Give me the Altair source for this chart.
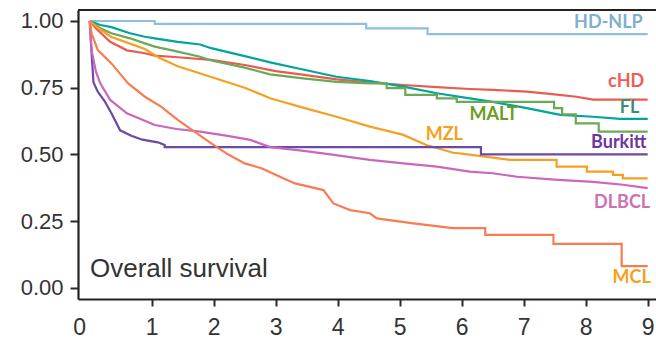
import altair as alt
import pandas as pd

# ---- data ----
series_names = ["HD-NLP", "cHD", "FL", "MALT", "MZL", "Burkitt", "DLBCL", "MCL"]

hdnlp_t = [0, 1.05, 1.05, 4.46, 4.46, 5.45, 5.45, 9.0]
hdnlp_s = [1.0, 1.0, 0.989, 0.989, 0.972, 0.972, 0.951, 0.951]

chd_t = [0, 0.11, 0.33, 0.6, 0.89, 1.05, 1.42, 1.96, 2.5, 3.0, 3.4, 3.98, 4.5, 5.06, 5.6, 6.13, 6.5, 7.05, 7.5, 7.85, 8.12, 9.0]
chd_s = [1.0, 0.97, 0.922, 0.89, 0.879, 0.87, 0.864, 0.854, 0.835, 0.812, 0.80, 0.781, 0.77, 0.76, 0.752, 0.745, 0.742, 0.735, 0.725, 0.716, 0.705, 0.705]

fl_t = [0, 0.17, 0.35, 0.65, 0.89, 1.05, 1.42, 1.78, 1.96, 2.5, 2.91, 3.44, 3.98, 4.52, 5.06, 5.6, 6.13, 6.5, 7.05, 7.59, 8.12, 8.55, 9.0]
fl_s = [1.0, 0.985, 0.977, 0.954, 0.941, 0.935, 0.922, 0.912, 0.898, 0.868, 0.845, 0.818, 0.791, 0.775, 0.754, 0.729, 0.71, 0.697, 0.673, 0.648, 0.641, 0.633, 0.633]

malt_t = [0, 0.17, 0.35, 0.65, 0.89, 1.05, 1.42, 1.78, 1.96, 2.5, 2.91, 3.44, 3.98, 4.52, 4.79, 4.79, 5.09, 5.09, 5.6, 5.6, 5.92, 5.92, 7.49, 7.49, 7.62, 7.62, 7.84, 7.84, 8.21, 8.21, 9.0]
malt_s = [1.0, 0.973, 0.954, 0.935, 0.916, 0.904, 0.885, 0.866, 0.852, 0.825, 0.80, 0.785, 0.772, 0.766, 0.766, 0.748, 0.748, 0.723, 0.723, 0.71, 0.71, 0.697, 0.697, 0.673, 0.673, 0.65, 0.65, 0.616, 0.616, 0.585, 0.585]

mzl_t = [0, 0.17, 0.35, 0.65, 0.89, 1.12, 1.42, 1.96, 2.5, 2.91, 3.44, 3.98, 4.52, 5.06, 5.43, 5.86, 6.0, 6.78, 7.53, 7.53, 8.02, 8.02, 8.44, 8.44, 8.6, 8.6, 9.0]
mzl_s = [1.0, 0.968, 0.94, 0.915, 0.895, 0.862, 0.83, 0.79, 0.75, 0.71, 0.675, 0.641, 0.604, 0.573, 0.535, 0.506, 0.503, 0.479, 0.479, 0.454, 0.454, 0.435, 0.435, 0.423, 0.423, 0.41, 0.41]

burkitt_t = [0, 0.03, 0.06, 0.13, 0.24, 0.35, 0.49, 0.67, 0.85, 1.1, 1.21, 1.21, 6.31, 6.31, 9.0]
burkitt_s = [1.0, 0.88, 0.77, 0.735, 0.70, 0.654, 0.59, 0.57, 0.555, 0.545, 0.535, 0.527, 0.527, 0.50, 0.50]

dlbcl_t = [0, 0.03, 0.1, 0.17, 0.33, 0.6, 1.05, 1.4, 1.78, 2.2, 2.59, 2.91, 3.39, 3.88, 4.52, 5.06, 5.6, 6.13, 6.5, 6.89, 7.5, 8.12, 8.6, 9.0]
dlbcl_s = [1.0, 0.89, 0.81, 0.766, 0.704, 0.654, 0.61, 0.595, 0.585, 0.57, 0.554, 0.527, 0.515, 0.50, 0.479, 0.466, 0.454, 0.435, 0.429, 0.416, 0.405, 0.397, 0.386, 0.373]

mcl_t = [0, 0.03, 0.13, 0.35, 0.62, 0.89, 1.15, 1.42, 1.69, 1.96, 2.23, 2.5, 2.77, 2.98, 3.31, 3.77, 3.93, 4.2, 4.52, 4.63, 5.22, 5.86, 6.38, 6.38, 7.48, 7.48, 8.58, 8.58, 9.0]
mcl_s = [1.0, 0.954, 0.891, 0.841, 0.766, 0.716, 0.679, 0.629, 0.585, 0.541, 0.50, 0.466, 0.448, 0.425, 0.391, 0.366, 0.316, 0.291, 0.279, 0.26, 0.241, 0.223, 0.223, 0.198, 0.198, 0.164, 0.164, 0.081, 0.081]

x_ticks = [1, 2, 3, 4, 5, 6, 7, 8, 9]
y_ticks = [0.0, 0.25, 0.5, 0.75, 1.0]

# label anchor positions (right edge of each label, in data units)
label_t = [8.92, 8.945, 8.865, 6.90, 6.02, 8.98, 9.04, 9.05]
label_s = [0.9925, 0.772, 0.673, 0.648, 0.573, 0.541, 0.319, 0.035]

# ---- styles ----
line_colors = ["#8fc0db", "#eb5a4f", "#00a59c", "#6aaa56", "#f5a023", "#6b4aa6", "#c967bf", "#f87c52"]
label_colors = ["#7eb0d0", "#ee5e58", "#3b8e77", "#6b9c1e", "#f7a01d", "#6b35a0", "#cf6fb4", "#f7a01d"]

curves = {
    "HD-NLP": (hdnlp_t, hdnlp_s),
    "cHD": (chd_t, chd_s),
    "FL": (fl_t, fl_s),
    "MALT": (malt_t, malt_s),
    "MZL": (mzl_t, mzl_s),
    "Burkitt": (burkitt_t, burkitt_s),
    "DLBCL": (dlbcl_t, dlbcl_s),
    "MCL": (mcl_t, mcl_s),
}

rows = []
for name in series_names:
    ts, ss = curves[name]
    for i, (t, s) in enumerate(zip(ts, ss)):
        rows.append({"series": name, "t": t, "s": s, "idx": i})
df = pd.DataFrame(rows)

labels_df = pd.DataFrame({"series": series_names, "t": label_t, "s": label_s})

W, H = 578, 289
xscale = alt.Scale(domain=[-0.189, 9.134], nice=False, zero=False)
yscale = alt.Scale(domain=[-0.0424, 1.0412], nice=False, zero=False)

x_axis = alt.Axis(
    values=[-0.17] + x_ticks, title=None, grid=False, format="d",
    labelExpr="datum.value < 0 ? '0' : datum.label",
    tickOpacity={"condition": {"test": "datum.value < 0", "value": 0}, "value": 1},
    labelFont="Liberation Sans", labelFontSize=23, labelColor="#333333",
    labelPadding=10, tickSize=7, tickWidth=2, tickColor="#2a2a2a",
    domainColor="#222222", domainWidth=2.2, labelFlush=False, labelOverlap=False,
)
y_axis = alt.Axis(
    values=y_ticks, title=None, grid=False, format=".2f",
    labelFont="Liberation Sans", labelFontSize=22, labelColor="#333333",
    labelPadding=7, tickSize=8, tickWidth=2, tickColor="#2a2a2a",
    domainColor="#222222", domainWidth=2.2,
)

lines = alt.Chart(df).mark_line(strokeWidth=2.2, clip=True).encode(
    x=alt.X("t:Q", scale=xscale, axis=x_axis),
    y=alt.Y("s:Q", scale=yscale, axis=y_axis),
    color=alt.Color("series:N", scale=alt.Scale(domain=series_names, range=line_colors), legend=None),
    detail="series:N",
    order="idx:Q",
)

labels = alt.Chart(labels_df).mark_text(
    align="right", baseline="middle", font="Lato", fontWeight="bold", fontSize=18
).encode(
    x=alt.X("t:Q", scale=xscale),
    y=alt.Y("s:Q", scale=yscale),
    text="series:N",
    color=alt.Color("series:N", scale=alt.Scale(domain=series_names, range=label_colors), legend=None),
)

title_df = pd.DataFrame({"t": [0.005], "s": [0.069], "txt": ["Overall survival"]})
title_txt = alt.Chart(title_df).mark_text(
    align="left", baseline="middle", font="Liberation Sans", fontSize=26, color="#333333"
).encode(
    x=alt.X("t:Q", scale=xscale),
    y=alt.Y("s:Q", scale=yscale),
    text="txt:N",
)

top_border = alt.Chart(pd.DataFrame({"a": [0]})).mark_rule(
    color="#222222", strokeWidth=2.2
).encode(x=alt.value(0), x2=alt.value(W), y=alt.value(0))

chart = alt.layer(lines, labels, title_txt, top_border).resolve_scale(
    color="independent"
).properties(
    width=W, height=H,
    autosize=alt.AutoSizeParams(type="none"),
    padding={"left": 78, "top": 10, "right": 0, "bottom": 43},
    background="white",
).configure_view(stroke="transparent")

chart.save("out.html", embed_options={"renderer": "svg", "actions": False})
